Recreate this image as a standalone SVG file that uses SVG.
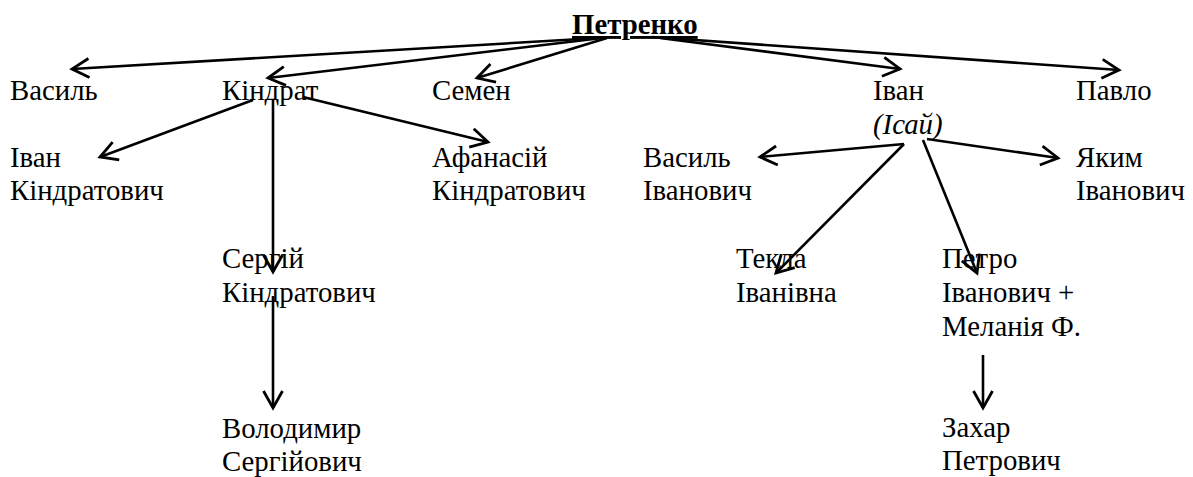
<svg xmlns="http://www.w3.org/2000/svg" width="1193" height="477" viewBox="0 0 1193 477">
<style>
text{font-family:"Liberation Serif","Tinos","Times New Roman",serif;font-size:28.8px;fill:#000}
.b{font-weight:bold;text-decoration:underline}
.i{font-style:italic}
.c path{stroke:#000;stroke-width:2.6;fill:none;marker-end:url(#ah)}
</style>
<defs>
<marker id="ah" markerUnits="userSpaceOnUse" orient="auto" refX="0" refY="0" markerWidth="40" markerHeight="40" viewBox="-20 -20 40 40" overflow="visible">
<path d="M-17,-9.5 L0,0 L-17,9.5" fill="none" stroke="#000" stroke-width="2.8"/>
</marker>
</defs>
<rect width="1193" height="477" fill="#fff"/>
<g id="petrenko"><text class="b" x="572" y="34">Петренко</text></g>
<g id="vasyl"><text x="10" y="100">Василь</text></g>
<g id="kindrat"><text x="222" y="100">Кіндрат</text></g>
<g id="semen"><text x="432" y="100">Семен</text></g>
<g id="ivan"><text x="873" y="100">Іван</text><text class="i" x="873" y="134">(Ісай)</text></g>
<g id="pavlo"><text x="1076" y="100">Павло</text></g>
<g id="ivan-k"><text x="10" y="167">Іван</text><text x="10" y="200">Кіндратович</text></g>
<g id="afanasii"><text x="432" y="167">Афанасій</text><text x="432" y="200">Кіндратович</text></g>
<g id="vasyl-i"><text x="643" y="167">Василь</text><text x="643" y="200">Іванович</text></g>
<g id="yakym"><text x="1076" y="167">Яким</text><text x="1076" y="200">Іванович</text></g>
<g id="serhii"><text x="222" y="268">Сергій</text><text x="222" y="302">Кіндратович</text></g>
<g id="tekla"><text x="736" y="268">Текла</text><text x="736" y="302">Іванівна</text></g>
<g id="petro"><text x="942" y="268">Петро</text><text x="942" y="302">Іванович +</text><text x="942" y="336">Меланія Ф.</text></g>
<g id="volodymyr"><text x="222" y="438">Володимир</text><text x="222" y="471">Сергійович</text></g>
<g id="zakhar"><text x="942" y="437">Захар</text><text x="942" y="470">Петрович</text></g>
<g id="connectors" class="c">
<path d="M598,38 L72,69"/>
<path d="M602,38 L268,78"/>
<path d="M607,38 L477,78"/>
<path d="M660,38 L900,69"/>
<path d="M652,37 L1119,70"/>
<path d="M253,100 L100,157"/>
<path d="M273,100 L273,272"/>
<path d="M303,97 L488,142"/>
<path d="M273,296 L273,408"/>
<path d="M904,144 L760,157"/>
<path d="M927,139 L1058,158"/>
<path d="M904,144 L776,273"/>
<path d="M923,140 L977,273"/>
<path d="M983,355 L983,408"/>
</g>
</svg>
